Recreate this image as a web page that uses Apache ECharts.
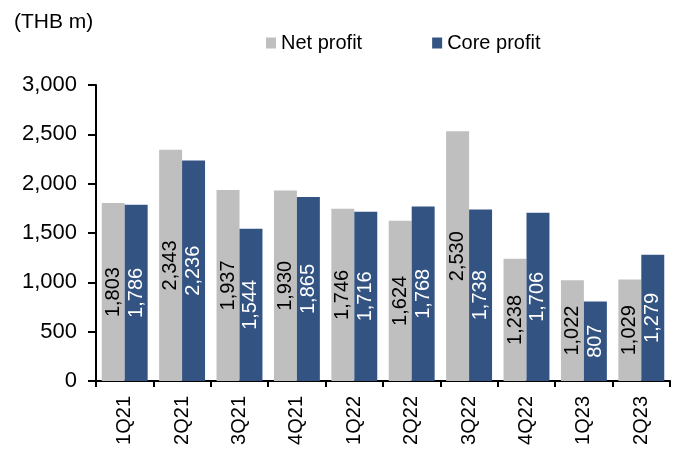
<!DOCTYPE html>
<html><head><meta charset="utf-8">
<script src="https://cdn.jsdelivr.net/npm/echarts@6/dist/echarts.min.js"></script>
<style>html,body{margin:0;padding:0;background:#fff}#c{width:683px;height:457px}</style>
</head><body><div id="c"></div>
<script>
const categories = ['1Q21','2Q21','3Q21','4Q21','1Q22','2Q22','3Q22','4Q22','1Q23','2Q23'];
const netProfit = [1803,2343,1937,1930,1746,1624,2530,1238,1022,1029];
const coreProfit = [1786,2236,1544,1865,1716,1768,1738,1706,807,1279];
const yTicks = {min:0, max:3000, interval:500};
const font = 'Liberation Sans, Arial, sans-serif';
const chart = echarts.init(document.getElementById('c'), null, {renderer:'canvas'});
const lbl = (color) => ({show:true, position:'inside', rotate:90, color:color, fontFamily:font, fontSize:20,
  formatter:p=>p.value.toLocaleString('en-US')});
chart.setOption({
  animation:false,
  textStyle:{fontFamily:font},
  graphic:[{type:'text', left:14, top:12, style:{text:'(THB m)', font:'21px '+font, fill:'#000'}}],
  legend:{top:28, left:261, itemWidth:10, itemHeight:11, itemGap:70, icon:'rect',
    textStyle:{fontSize:20, color:'#000', fontFamily:font},
    data:['Net profit','Core profit']},
  grid:{left:96, right:13, top:85, bottom:76},
  xAxis:{type:'category', data:categories,
    axisLine:{lineStyle:{color:'#000', width:2}},
    axisTick:{show:true, length:6, lineStyle:{color:'#000', width:2}},
    axisLabel:{rotate:90, fontSize:20, color:'#000', fontFamily:font, margin:15}},
  yAxis:{type:'value', min:yTicks.min, max:yTicks.max, interval:yTicks.interval,
    axisLine:{show:true, lineStyle:{color:'#000', width:2}},
    axisTick:{show:true, length:8, lineStyle:{color:'#000', width:2}},
    splitLine:{show:false},
    axisLabel:{fontSize:22, color:'#000', fontFamily:font, margin:19,
      formatter:v=>v.toLocaleString('en-US')}},
  series:[
    {name:'Net profit', type:'bar', data:netProfit, barGap:'0%', barCategoryGap:'20%',
     itemStyle:{color:'#BFBFBF'}, label:lbl('#000')},
    {name:'Core profit', type:'bar', data:coreProfit, barGap:'0%', barCategoryGap:'20%',
     itemStyle:{color:'#335483'}, label:lbl('#fff')}
  ]
});
</script></body></html>
